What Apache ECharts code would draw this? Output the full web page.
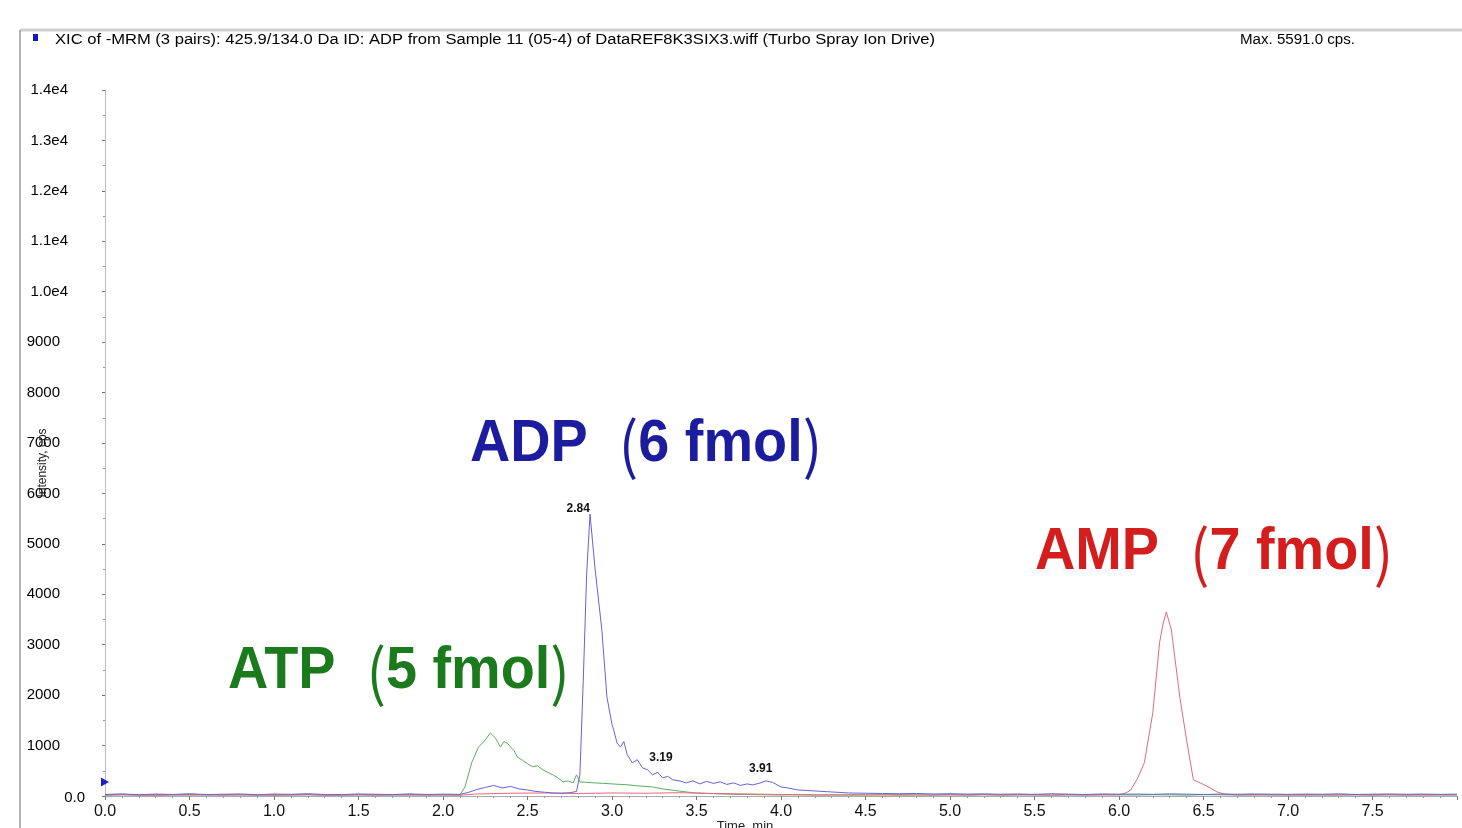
<!DOCTYPE html>
<html>
<head>
<meta charset="utf-8">
<script src="https://cdn.jsdelivr.net/npm/echarts@6/dist/echarts.min.js"></script>
<style>html,body{margin:0;padding:0;background:#fff;}#c{width:1462px;height:828px;}</style>
</head>
<body>
<div id="c"></div>
<script>
// ---------- data ----------
const yTicks = [0,1000,2000,3000,4000,5000,6000,7000,8000,9000,10000,11000,12000,13000,14000];
const yTickLabels = ['0.0','1000','2000','3000','4000','5000','6000','7000','8000','9000','1.0e4','1.1e4','1.2e4','1.3e4','1.4e4'];
const xTickLabels = ['0.0','0.5','1.0','1.5','2.0','2.5','3.0','3.5','4.0','4.5','5.0','5.5','6.0','6.5','7.0','7.5'];

// ADP trace (blue)
const adpTime = [0.0,0.1,0.2,0.3,0.4,0.5,0.6,0.7,0.8,0.9,1.0,1.1,1.2,1.3,1.4,1.5,1.6,1.7,1.8,1.9,2.0,2.1,
  2.15,2.2,2.25,2.3,2.35,2.4,2.45,2.5,2.55,2.6,2.65,2.7,2.75,2.79,2.81,2.83,2.85,2.87,2.9,2.94,2.97,3.0,3.01,3.03,3.05,3.07,3.09,
  3.12,3.15,3.18,3.21,3.24,3.27,3.3,3.33,3.36,3.4,3.44,3.48,3.52,3.56,3.6,3.64,3.68,3.72,3.76,3.8,3.83,3.87,3.91,3.95,
  4.0,4.04,4.1,4.2,4.3,4.4,4.5,4.6,4.7,4.8,4.9,5.0,
  5.1,5.2,5.3,5.4,5.5,5.6,5.7,5.8,5.9,6.0,6.1,6.2,6.3,6.4,6.5,6.6,6.7,6.8,6.9,7.0,7.1,7.2,7.3,7.4,7.5,7.6,7.7,7.8,7.9,8.0];
const adpCps = [30,42,25,38,30,45,28,35,40,26,38,33,45,30,28,40,35,27,42,30,36,32,
  70,130,170,210,160,190,140,120,90,75,60,55,65,90,420,2300,4400,5591,4500,3290,1960,1420,1310,1050,970,1080,820,
  660,720,560,520,420,470,360,390,320,300,260,300,240,290,250,280,230,260,210,240,220,250,300,270,
  180,160,120,100,80,60,55,50,45,50,40,45,
  38,42,35,40,32,45,36,30,40,35,38,33,42,36,30,38,34,40,36,32,38,35,42,30,36,40,34,38,32,36];

// ATP trace (green)
const atpTime = [0.0,0.1,0.2,0.3,0.4,0.5,0.6,0.7,0.8,0.9,1.0,1.1,1.2,1.3,1.4,1.5,1.6,1.7,1.8,1.9,2.0,2.1,
  2.13,2.17,2.21,2.25,2.28,2.31,2.34,2.36,2.38,2.4,2.42,2.44,2.47,2.5,2.53,2.56,2.59,2.62,2.65,2.68,2.71,2.74,2.77,2.79,2.81,
  2.85,2.9,2.95,3.0,3.05,3.1,3.15,3.2,3.24,3.3,3.37,3.44,3.5,3.6,3.7,3.8,
  3.9,4.0,4.1,4.2,4.3,4.4,4.5,4.6,4.7,4.8,4.9,5.0,5.1,5.2,5.3,5.4,5.5,5.6,5.7,5.8,5.9,6.0,6.1,6.2,6.3,6.4,6.5,6.6,6.7,6.8,6.9,7.0,7.1,7.2,7.3,7.4,7.5,7.6,7.7,7.8,7.9,8.0];
const atpCps = [20,28,18,25,22,30,19,26,24,17,27,22,29,20,18,26,23,19,28,21,24,22,
  180,660,970,1110,1250,1150,970,1080,1050,970,900,770,710,640,580,600,520,470,420,360,280,300,260,420,280,
  270,260,250,240,230,220,200,190,180,140,110,80,60,45,35,30,
  25,20,28,22,18,26,24,20,27,21,19,25,23,28,20,22,26,19,24,21,27,23,20,25,22,18,26,24,21,28,20,23,25,19,22,27,21,24,20,26,22,25];

// AMP trace (red)
const ampTime = [0.0,0.1,0.2,0.3,0.4,0.5,0.6,0.7,0.8,0.9,1.0,1.1,1.2,1.3,1.4,1.5,1.6,1.7,1.8,1.9,2.0,2.1,
  2.2,2.4,2.6,2.8,3.0,3.2,3.4,3.6,3.8,4.0,
  4.1,4.2,4.3,4.4,4.5,4.6,4.7,4.8,4.9,5.0,5.1,5.2,5.3,5.4,5.5,5.6,5.7,5.8,5.9,6.0,
  6.04,6.07,6.11,6.15,6.2,6.24,6.26,6.28,6.31,6.36,6.4,6.44,6.48,6.54,6.58,6.62,
  6.7,6.8,6.9,7.0,7.1,7.2,7.3,7.4,7.5,7.6,7.7,7.8,7.9,8.0];
const ampCps = [15,22,18,12,20,16,24,14,19,21,13,18,22,15,17,20,14,23,16,19,18,15,
  40,55,60,50,60,55,65,50,40,30,
  22,18,25,16,20,24,15,21,19,23,17,22,18,25,20,16,23,19,21,25,
  60,120,350,660,1650,3040,3400,3650,3290,1960,1110,320,260,160,80,40,
  22,18,25,20,16,23,19,21,17,24,20,18,22,19];

// peak annotations (retention times as printed) and the y-axis marker
const peakLabelText = ['2.84','3.19','3.91'];
const peakLabelTime = [2.80,3.29,3.88];
const peakLabelCps = [5700,760,540];
const markerTime = 0.0, markerCps = 280;

const titleText = 'XIC of -MRM (3 pairs): 425.9/134.0 Da ID: ADP from Sample 11 (05-4) of DataREF8K3SIX3.wiff (Turbo Spray Ion Drive)';
const maxText = 'Max. 5591.0 cps.';
const compoundNames = ['ADP', 'ATP', 'AMP'];
const compoundAmounts = ['6 fmol', '5 fmol', '7 fmol'];

// ---------- helpers ----------
const measureCtx = document.createElement('canvas').getContext('2d');
function fitScale(text, font, width) {
  measureCtx.font = font;
  return width / measureCtx.measureText(text).width;
}
const pairs = (t, v) => t.map((x, i) => [x, v[i]]);

const FAM = '"Liberation Sans", "Noto Sans CJK JP", sans-serif';
const titleFont = '14px ' + FAM;

function bigText(name, amount, x, y, color) {
  return { type: 'text', x: x, y: y, scaleX: 0.93, z: 50,
    style: {
      text: '{a|' + name + '  }{p|(}{a|' + amount + '}{p|)}',
      fill: color, align: 'left', verticalAlign: 'middle',
      rich: {
        a: { fontSize: 60, fontWeight: 'bold', fontFamily: 'Liberation Sans', fill: color },
        p: { fontSize: 62, fontWeight: 'normal', fontFamily: 'Noto Sans CJK JP', fill: color }
      }
    } };
}

const chart = echarts.init(document.getElementById('c'), null, { renderer: 'canvas' });
const option = {
  animation: false,
  backgroundColor: '#fff',
  grid: { left: 105, right: 5, top: 90, bottom: 32 },
  xAxis: {
    type: 'value', min: 0, max: 8, interval: 0.5,
    axisLine: { show: true, lineStyle: { color: '#aaa', width: 1 } },
    axisTick: { show: true, length: 4, lineStyle: { color: '#777' } },
    minorTick: { show: true, splitNumber: 5, length: 2, lineStyle: { color: '#999' } },
    splitLine: { show: false },
    axisLabel: {
      fontSize: 16, color: '#111', margin: 8, fontFamily: 'Liberation Sans',
      formatter: function (v) { const i = Math.round(v / 0.5); return xTickLabels[i] || ''; }
    }
  },
  yAxis: {
    type: 'value', min: 0, max: 14000, interval: 1000,
    axisLine: { show: true, lineStyle: { color: '#bbb', width: 1 } },
    axisTick: { show: true, length: 3, lineStyle: { color: '#777' } },
    minorTick: { show: true, splitNumber: 2, length: 2, lineStyle: { color: '#999' } },
    splitLine: { show: false },
    axisLabel: {
      margin: 20, color: '#000', fontSize: 15, fontFamily: 'Liberation Sans',
      formatter: function (v) {
        const i = yTicks.indexOf(v);
        const t = yTickLabels[i];
        if (v === 0) return '{z|' + t + '}';
        if (v >= 10000) return '{e|' + t + '}';
        return '{n|' + t + '}';
      },
      rich: {
        z: { fontSize: 15, color: '#000', padding: [4, 0, 0, 0] },
        e: { fontSize: 15, color: '#000', padding: [0, 17, 0, 0] },
        n: { fontSize: 15, color: '#000', padding: [0, 25, 0, 0] }
      }
    }
  },
  series: [
    { name: 'ATP', type: 'line', data: pairs(atpTime, atpCps), showSymbol: false, z: 2,
      lineStyle: { color: '#5cad5c', width: 1 }, itemStyle: { color: '#5cad5c' } },
    { name: 'AMP', type: 'line', data: pairs(ampTime, ampCps), showSymbol: false, z: 3,
      lineStyle: { color: '#e46a78', width: 1 }, itemStyle: { color: '#e46a78' } },
    { name: 'ADP', type: 'line', data: pairs(adpTime, adpCps), showSymbol: false, z: 4,
      lineStyle: { color: '#6464d4', width: 1 }, itemStyle: { color: '#6464d4' },
      markPoint: {
        silent: true,
        data: peakLabelText.map((txt, i) => ({
          coord: [peakLabelTime[i], peakLabelCps[i]], symbol: 'circle', symbolSize: 0,
          label: { show: true, position: 'inside', formatter: txt, color: '#111', fontSize: 12,
            fontWeight: 'bold', fontFamily: 'Liberation Sans' }
        })).concat([{
          coord: [markerTime, markerCps], symbol: 'triangle', symbolSize: [9, 8], symbolRotate: -90,
          itemStyle: { color: '#2020c8' }, label: { show: false }
        }])
      }
    }
  ],
  graphic: [
    { type: 'line', shape: { x1: 20, y1: 30, x2: 1462, y2: 30 }, style: { stroke: '#cfcfcf', lineWidth: 3 }, z: 40 },
    { type: 'line', shape: { x1: 20, y1: 30, x2: 20, y2: 828 }, style: { stroke: '#9a9a9a', lineWidth: 1.5 }, z: 40 },
    { type: 'rect', shape: { x: 33, y: 34, width: 5, height: 7 }, style: { fill: '#1414c4' }, z: 40 },
    { type: 'text', x: 55, y: 40, scaleX: fitScale(titleText, titleFont, 880), z: 40,
      style: { text: titleText, font: titleFont, fill: '#000', align: 'left', verticalAlign: 'middle' } },
    { type: 'text', x: 1240, y: 40, scaleX: fitScale(maxText, titleFont, 115), z: 40,
      style: { text: maxText, font: titleFont, fill: '#000', align: 'left', verticalAlign: 'middle' } },
    { type: 'text', x: 43, y: 463, rotation: Math.PI / 2, z: 40,
      style: { text: 'Intensity, cps', font: '12px ' + FAM, fill: '#222', align: 'center', verticalAlign: 'middle' } },
    { type: 'text', x: 745, y: 826, z: 40,
      style: { text: 'Time, min', font: '13px ' + FAM, fill: '#222', align: 'center', verticalAlign: 'middle' } },
    bigText(compoundNames[0], compoundAmounts[0], 470, 444, '#1c1c9e'),
    bigText(compoundNames[1], compoundAmounts[1], 228, 671, '#1b7a1b'),
    bigText(compoundNames[2], compoundAmounts[2], 1035, 552, '#d41e1e')
  ]
};
chart.setOption(option);
</script>
</body>
</html>
